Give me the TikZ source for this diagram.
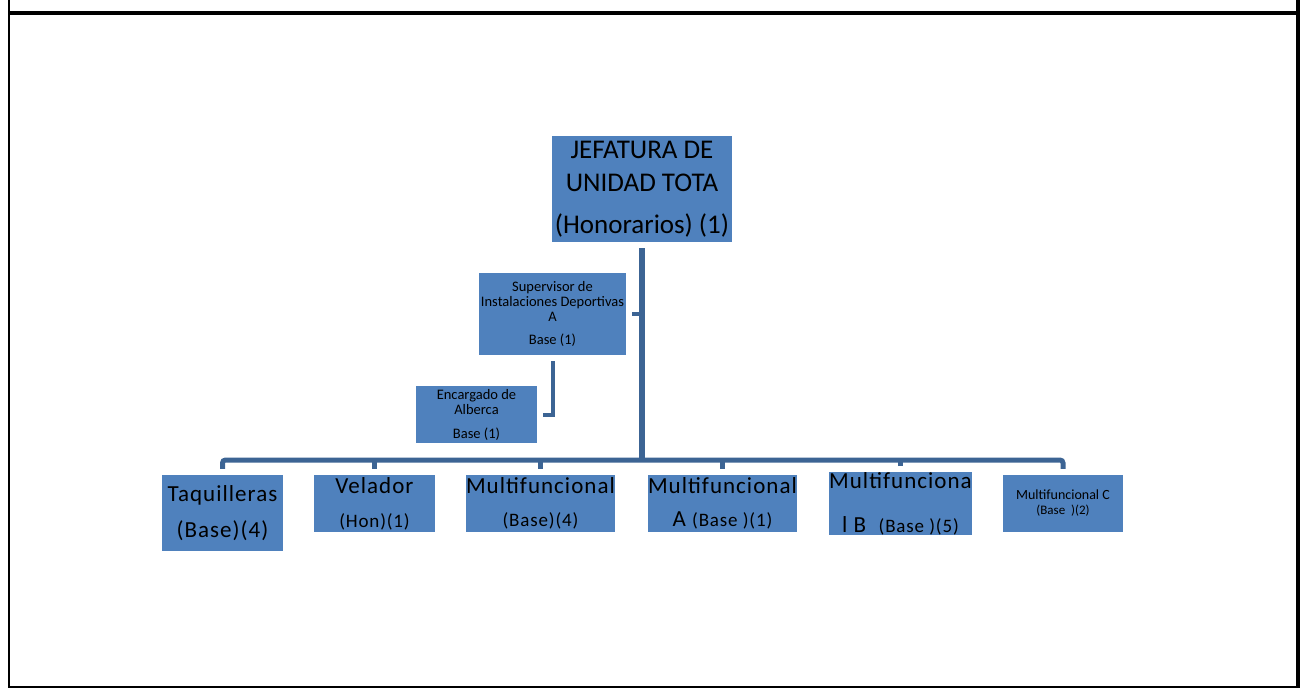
\documentclass[tikz,border=0pt]{standalone}
\usepackage{fontspec}
\setmainfont{Carlito}
\newfontfamily\espaciada[LetterSpace=4.5]{Carlito}
\definecolor{cajaazul}{HTML}{4F81BD}
\definecolor{lineaazul}{HTML}{3C6494}
\tikzset{
  puesto/.style={fill=cajaazul, inner sep=0pt, align=center},
  enlace/.style={draw=lineaazul, line width=5pt},
}

\begin{document}
\begin{tikzpicture}[x=1pt,y=-1pt]
  \useasboundingbox (0,0) rectangle (1301,688);
  \draw[line width=2pt] (9,0) -- (9,688);
  \draw[line width=4pt] (9,13) -- (1300,13);
  \draw[line width=4pt] (1298,0) -- (1298,688);
  \draw[line width=2pt] (9,687) -- (1300,687);

  \node[puesto, minimum width=180, minimum height=106, font=\fontsize{27}{33}\selectfont] (jefatura) at (642,189) {JEFATURA DE\\UNIDAD TOTA\\[9pt](Honorarios) (1)};
  \node[puesto, minimum width=147, minimum height=82, font=\fontsize{14.5}{15}\selectfont] (supervisor) at (552.5,314) {Supervisor de\\Instalaciones Deportivas\\A\\[8pt]Base (1)};
  \node[puesto, minimum width=121, minimum height=57, font=\fontsize{14.5}{15}\selectfont] (encargado) at (476.5,414.5) {Encargado de\\Alberca\\[9pt]Base (1)};

  \node[puesto, minimum width=121, minimum height=76, font=\espaciada\fontsize{23}{36}\selectfont] (taquilleras) at (222.5,513) {Taquilleras\\(Base)(4)};
  \node[puesto, minimum width=121, minimum height=57, font=\espaciada\fontsize{23}{34}\selectfont] (velador) at (374.5,503.5) {Velador\\{\fontsize{19}{34}\selectfont(Hon)(1)}};
  \node[puesto, minimum width=149, minimum height=57, font=\espaciada\fontsize{23}{33}\selectfont] (multi) at (540.5,503.5) {Multifuncional\\{\fontsize{19}{33}\selectfont(Base)(4)}};
  \node[puesto, minimum width=149, minimum height=57, font=\espaciada\fontsize{23}{33}\selectfont] (multia) at (722.5,503.5) {Multifuncional\\A {\fontsize{19}{33}\selectfont(Base )(1)}};
  \node[puesto, minimum width=141, minimum height=57, font=\espaciada\fontsize{23}{33}\selectfont] (multib) at (900.5,503.5) {Multifunciona\\[11pt]l B\ \ {\fontsize{19}{33}\selectfont(Base )(5)}};
  \node[puesto, minimum width=120, minimum height=57, font=\fontsize{14}{15}\selectfont] (multic) at (1063,503.5) {Multifuncional C\\{\fontsize{13}{15}\selectfont(Base\ \ )(2)}};

  \coordinate (barra) at (642,460);
  \draw[enlace, line width=6pt] ([yshift=-6pt]jefatura.south) -- (jefatura.south |- barra);
  \draw[enlace, rounded corners=3] ([yshift=6pt]taquilleras.north) |- (barra) -| ([yshift=6pt]multic.north);
  \foreach \n in {velador, multi, multia, multib}
    \draw[enlace] ([yshift=6pt]\n.north) -- (\n.north |- barra);
  \draw[enlace, line width=4pt] ([xshift=6pt]supervisor.east) -- (supervisor.east -| jefatura.south);
  \draw[enlace, line width=4pt] ([yshift=-6pt]supervisor.south) |- ([xshift=6pt]encargado.east);
\end{tikzpicture}
\end{document}
